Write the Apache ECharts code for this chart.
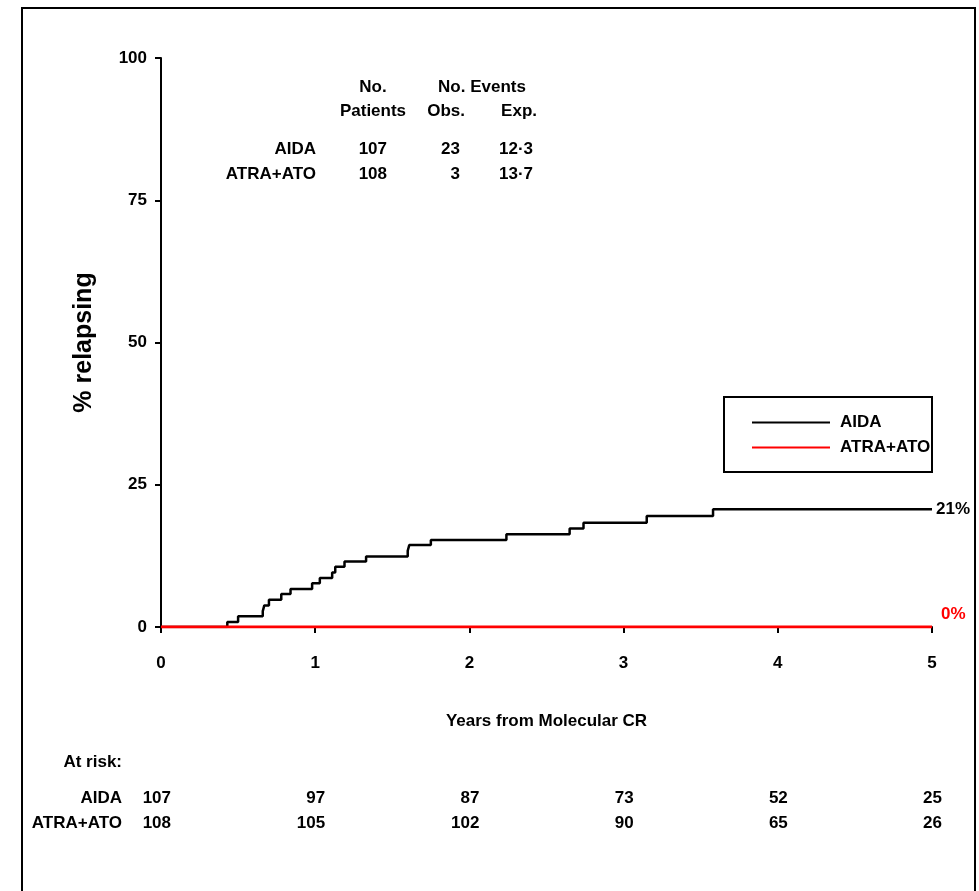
<!DOCTYPE html>
<html>
<head>
<meta charset="utf-8">
<script src="https://cdn.jsdelivr.net/npm/echarts@6/dist/echarts.min.js"></script>
<style>
  html, body { margin: 0; padding: 0; background: #fff; }
  #main { width: 979px; height: 891px; }
</style>
</head>
<body>
<div id="main"></div>
<script>
// groups
const groups = ['AIDA', 'ATRA+ATO']
const groupColors = ['#000000', '#ff0000']

// summary table
const noPatients = [107, 108]
const eventsObs = [23, 3]
const eventsExp = ['12·3', '13·7']

// cumulative relapse curves (years, %)
const aidaYears = [0, 0.43, 0.50, 0.66, 0.67, 0.70, 0.78, 0.84, 0.98, 1.03, 1.11, 1.13, 1.19, 1.33, 1.60, 1.61, 1.75, 2.24, 2.65, 2.74, 3.15, 3.58, 5]
const aidaPct = [0, 0.9, 1.9, 2.8, 3.8, 4.8, 5.8, 6.7, 7.7, 8.6, 9.6, 10.6, 11.5, 12.4, 13.4, 14.4, 15.3, 16.3, 17.3, 18.3, 19.5, 20.7, 20.7]
const atraYears = [0, 5]
const atraPct = [0, 0]

// at risk
const riskYears = [0, 1, 2, 3, 4, 5]
const atRiskAida = [107, 97, 87, 73, 52, 25]
const atRiskAtra = [108, 105, 102, 90, 65, 26]

const FONT = '"Liberation Sans", Arial, sans-serif'
const FS = 17
const txt = { fontFamily: FONT, fontWeight: 'bold', fontSize: FS, color: '#000' }

let myChart = echarts.init(document.getElementById('main'))

function pairs (xs, ys) {
  let out = []
  for (let i = 0; i < xs.length; i++) {
    out.push([xs[i], ys[i]])
  }
  return out
}

function endText (params) {
  return Math.round(params.value[1]) + '%'
}

let option = {
  animation: false,
  backgroundColor: '#fff',
  grid: {
    left: 161,
    right: 47,
    top: 58,
    bottom: 264
  },
  legend: {
    data: groups,
    orient: 'vertical',
    left: 747,
    top: 405,
    icon: 'rect',
    itemWidth: 78,
    itemHeight: 2,
    itemGap: 0,
    textStyle: Object.assign({}, txt, { lineHeight: 25, padding: [0, 0, 0, 5] })
  },
  xAxis: {
    type: 'value',
    min: 0,
    max: 5,
    interval: 1,
    name: 'Years from Molecular CR',
    nameLocation: 'middle',
    nameGap: 86,
    nameTextStyle: txt,
    axisLine: { lineStyle: { color: '#000', width: 2 } },
    axisTick: { length: 6, lineStyle: { color: '#000', width: 2 } },
    axisLabel: Object.assign({}, txt, { margin: 28 }),
    splitLine: { show: false }
  },
  yAxis: {
    type: 'value',
    min: 0,
    max: 100,
    interval: 25,
    name: '% relapsing',
    nameLocation: 'middle',
    nameRotate: 90,
    nameGap: 64,
    nameTextStyle: { fontFamily: FONT, fontWeight: 'bold', fontSize: 25, color: '#000' },
    axisLine: { show: true, lineStyle: { color: '#000', width: 2 } },
    axisTick: { show: true, length: 6, lineStyle: { color: '#000', width: 2 } },
    axisLabel: Object.assign({}, txt, { margin: 14 }),
    splitLine: { show: false }
  },
  series: [
    {
      name: groups[0],
      type: 'line',
      step: 'end',
      symbol: 'none',
      color: groupColors[0],
      lineStyle: { width: 2.5, color: groupColors[0] },
      data: pairs(aidaYears, aidaPct),
      endLabel: Object.assign({ show: true, formatter: endText, distance: 4 }, txt),
      z: 2
    },
    {
      name: groups[1],
      type: 'line',
      symbol: 'none',
      color: groupColors[1],
      lineStyle: { width: 3, color: groupColors[1] },
      data: pairs(atraYears, atraPct),
      endLabel: Object.assign({ show: true, formatter: endText, distance: 9, offset: [0, -13] }, txt, { color: groupColors[1] }),
      z: 3
    }
  ]
}
myChart.setOption(option)

// text blocks placed after the axes exist
function t (x, y, text, align) {
  return {
    type: 'text',
    x: x,
    y: y,
    style: {
      text: String(text),
      fill: '#000',
      font: 'bold ' + FS + 'px ' + FONT,
      align: align || 'right',
      verticalAlign: 'middle'
    }
  }
}

let g = []
// frame
g.push({ type: 'rect', shape: { x: 22, y: 8, width: 953, height: 900 }, style: { fill: 'none', stroke: '#000', lineWidth: 2 }, silent: true })
// legend box
g.push({ type: 'rect', shape: { x: 724, y: 397, width: 208, height: 75 }, style: { fill: 'none', stroke: '#000', lineWidth: 2 }, z: 10 })

// summary table
g.push(t(373, 87, 'No.', 'center'))
g.push(t(373, 111, 'Patients', 'center'))
g.push(t(482, 87, 'No. Events', 'center'))
g.push(t(465, 111, 'Obs.', 'right'))
g.push(t(537, 111, 'Exp.', 'right'))
for (let i = 0; i < groups.length; i++) {
  let y = 149 + i * 25
  g.push(t(316, y, groups[i]))
  g.push(t(387, y, noPatients[i]))
  g.push(t(460, y, eventsObs[i]))
  g.push(t(533, y, eventsExp[i]))
}

// at risk table
g.push(t(122, 762, 'At risk:'))
g.push(t(122, 798, groups[0]))
g.push(t(122, 823, groups[1]))
for (let i = 0; i < riskYears.length; i++) {
  let px = myChart.convertToPixel({ xAxisIndex: 0 }, riskYears[i]) + 10
  g.push(t(px, 798, atRiskAida[i]))
  g.push(t(px, 823, atRiskAtra[i]))
}

myChart.setOption({ graphic: g })
</script>
</body>
</html>
